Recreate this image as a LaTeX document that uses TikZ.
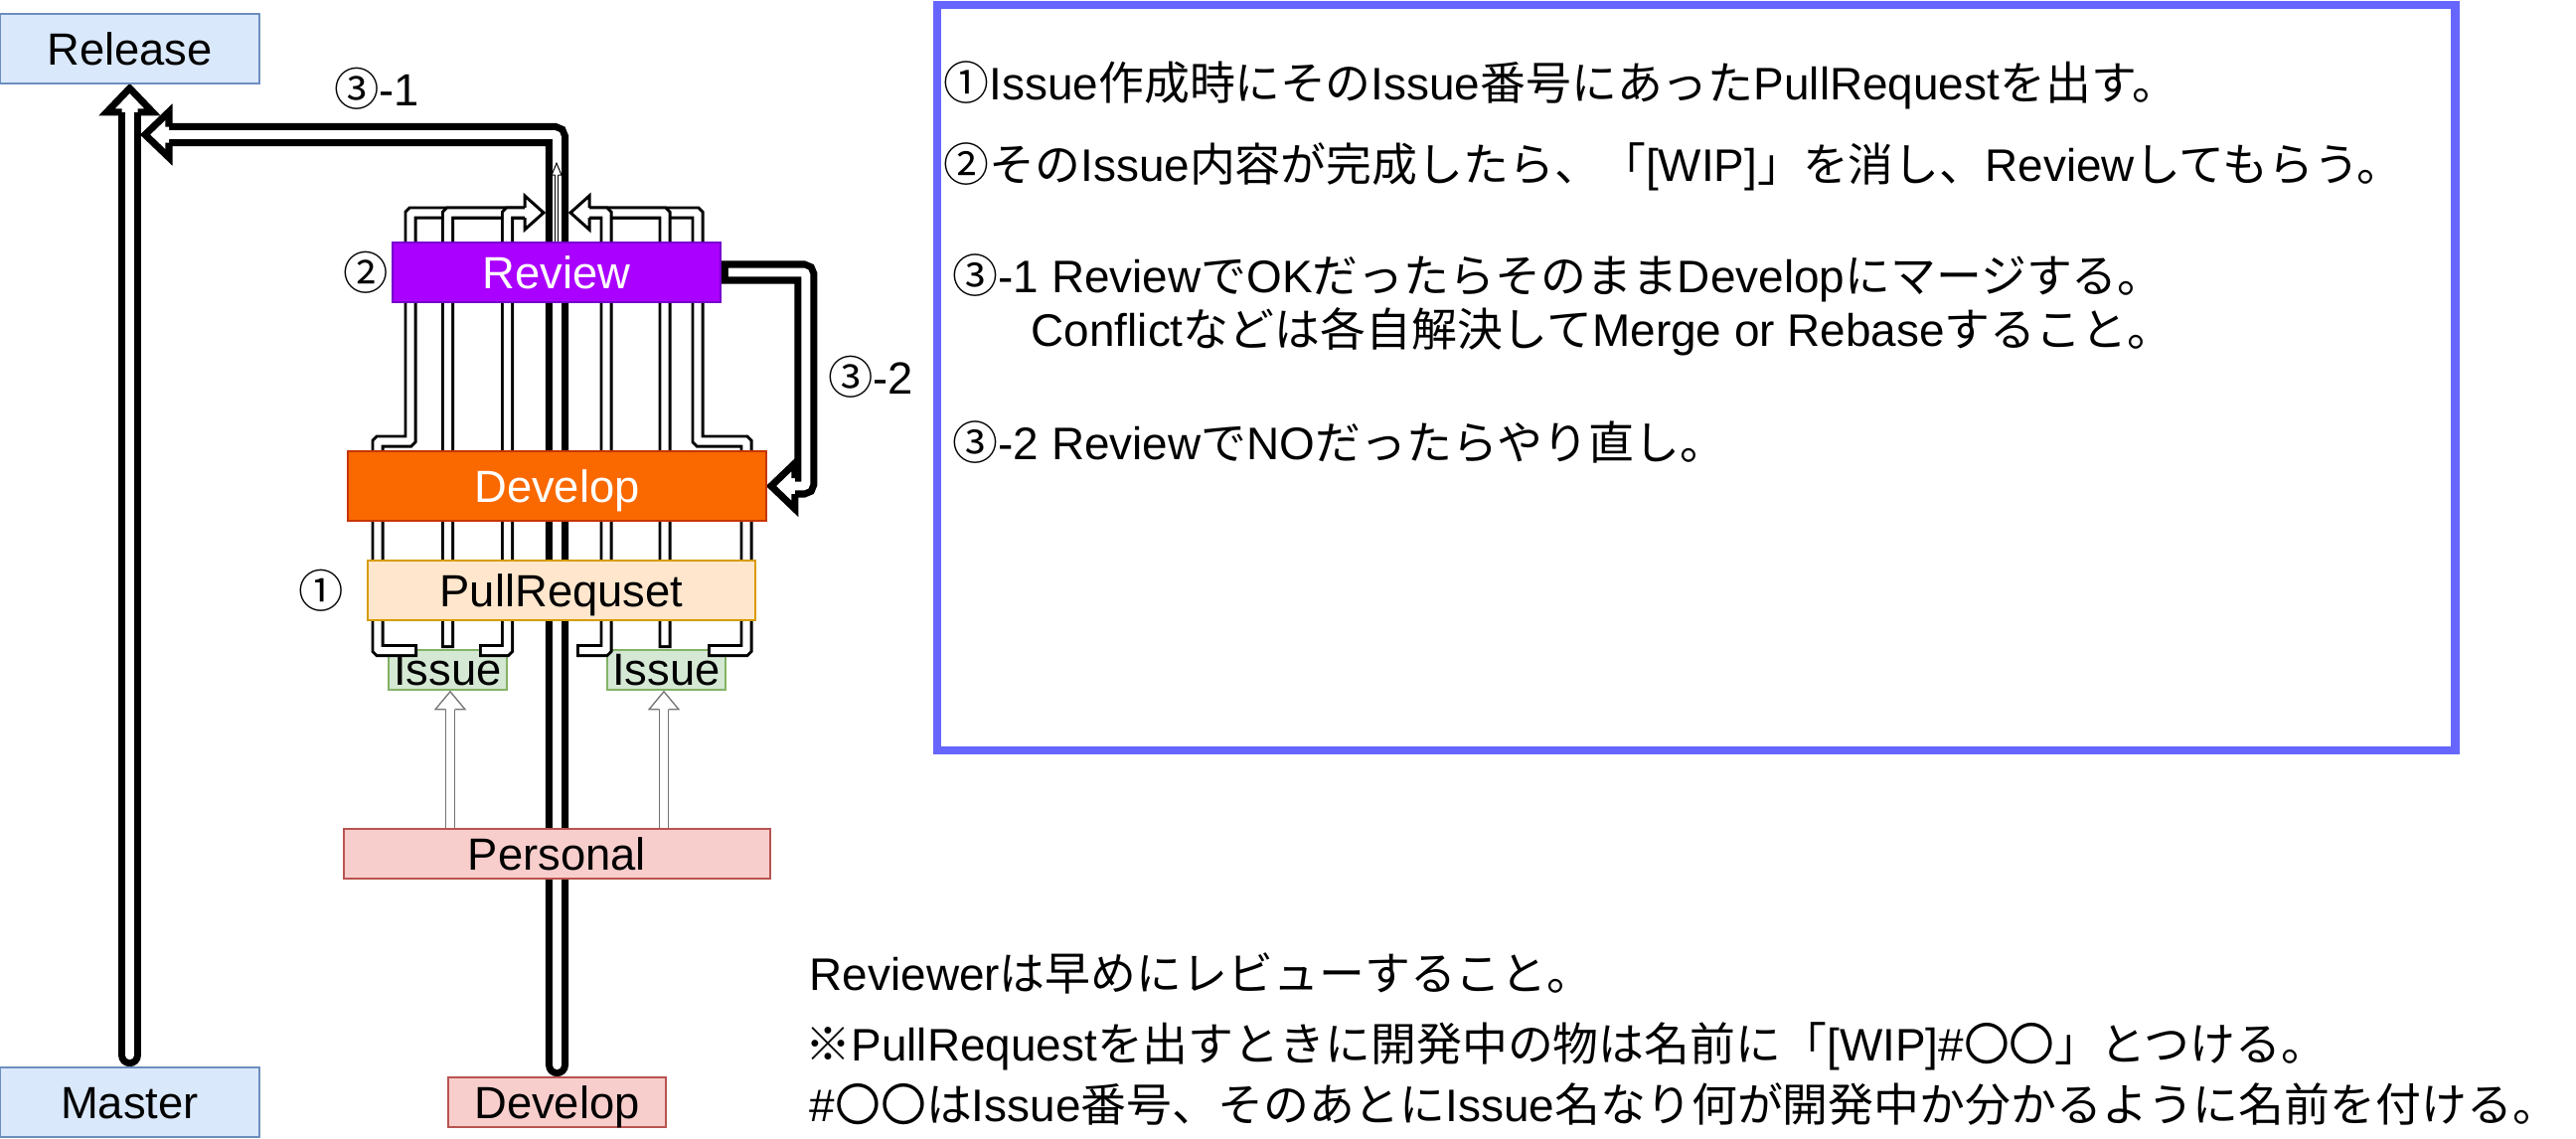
\documentclass[tikz,border=0pt]{standalone}
\usepackage{fontspec}
\setmainfont{Liberation Sans}
\newfontfamily\jp{Noto Sans CJK JP}
\usepackage{tikz}
\usetikzlibrary{positioning,calc}
\newcommand{\ja}[1]{{\jp #1}}
\newcommand{\boxfont}{\fontsize{12.9}{14}\selectfont}
\newcommand{\notefont}{\fontsize{13.05}{16}\selectfont}
\definecolor{relfill}{HTML}{DAE8FC}
\definecolor{relline}{HTML}{6C8EBF}
\definecolor{perfill}{HTML}{F8CECC}
\definecolor{perline}{HTML}{B85450}
\definecolor{issfill}{HTML}{D5E8D4}
\definecolor{issline}{HTML}{82B366}
\definecolor{prfill}{HTML}{FFE6CC}
\definecolor{prline}{HTML}{D79B00}
\definecolor{devfill}{HTML}{FA6800}
\definecolor{devline}{HTML}{C73500}
\definecolor{revfill}{HTML}{AA00FF}
\definecolor{revline}{HTML}{7700CC}
\definecolor{notecolor}{HTML}{6666FF}
\pgfdeclarelayer{back}
\pgfsetlayers{back,main}
\NewDocumentCommand{\flexhead}{ O{} m m m m m }
{
  \begin{scope}[shift={(#2)},rotate=#3]
    \filldraw[fill=white,#1] (-#4,#6) -- (-#4,#5) -- (0,0) -- (-#4,-#5) -- (-#4,-#6);
  \end{scope}
}
\tikzset{
  box/.style={draw,line width=0.45pt,inner sep=0pt,font=\boxfont,text height=1.8ex,text depth=0pt},
  relbox/.style={box,fill=relfill,draw=relline},
  perbox/.style={box,fill=perfill,draw=perline},
  issbox/.style={box,fill=issfill,draw=issline,text height=1.7ex},
  prbox/.style={box,fill=prfill,draw=prline},
  devbox/.style={box,fill=devfill,draw=devline,text=white},
  revbox/.style={box,fill=revfill,draw=revline,text=white},
  numlabel/.style={inner sep=0pt,font=\boxfont},
  notetext/.style={anchor=base west,inner sep=0pt,font=\notefont},
  fatshaft/.style={line width=2pt,double=white,double distance=2.55pt,rounded corners=0.85pt},
  fathead/.style={line width=2pt,line join=miter},
  thinshaft/.style={line width=0.85pt,double=white,double distance=2pt,rounded corners=0.4pt,line cap=rect},
  thinhead/.style={line width=0.85pt,line join=miter},
  greyshaft/.style={draw=black!55,line width=0.37pt,double=white,double distance=2.2pt},
  greyhead/.style={draw=black!55,line width=0.37pt},
  tinyshaft/.style={line width=0.28pt,double=white,double distance=0.6pt},
  tinyhead/.style={line width=0.28pt},
}
\begin{document}
\begin{tikzpicture}[x=0.01cm,y=-0.01cm]
  \useasboundingbox (0,0) rectangle (2592,1145);
  \node[relbox,minimum width=2.61cm,minimum height=0.70cm] (release) at (130.5,49) {Release};
  \node[relbox,minimum width=2.61cm,minimum height=0.70cm] (master) at (130.5,1109) {Master};
  \node[perbox,minimum width=2.19cm,minimum height=0.50cm] (devbase) at (560.5,1109) {Develop};
  \node[perbox,minimum width=4.29cm,minimum height=0.50cm] (personal) at (560.5,859) {Personal};
  \node[prbox,minimum width=3.90cm,minimum height=0.60cm] (pullreq) at (565,594) {PullRequset};
  \node[devbox,minimum width=4.21cm,minimum height=0.70cm] (develop) at (560.5,489) {Develop};
  \node[revbox,minimum width=3.30cm,minimum height=0.60cm] (review) at (560,274) {Review};
  \node[numlabel,left=0.3mm of review] (lab2) {\ja{②}};
  \node[numlabel,left=2.3mm of pullreq] (lab1) {\ja{①}};
  \node[numlabel] (lab31) at (379,89) {\ja{③}-1};
  \node[numlabel] (lab32) at (876,379) {\ja{③}-2};
  \begin{pgfonlayer}{back}
    \fill[white] (0,0) rectangle (2592,1145);
    \node[issbox,minimum width=1.19cm,minimum height=0.40cm] (issuel) at (450.5,674) {Issue};
    \node[issbox,minimum width=1.19cm,minimum height=0.40cm] (issuer) at (670.5,674) {Issue};
    \coordinate (relin) at (146,135.5);
    \coordinate (mergel) at (547,214);
    \coordinate (merger) at (574,214);
    \coordinate (pinl) at ($(issuel.south)+(2.5,1)$);
    \coordinate (pinr) at ($(issuer.south)+(-2.5,1)$);
    \draw[fatshaft,line cap=round] ($(master.north)+(0,-11.5)$) -- ($(release.south)+(0,28)$);
    \flexhead[fathead]{$(release.south)+(0,4)$}{90}{24}{23}{8};
    \draw[fatshaft,line cap=round] ($(devbase.north)+(0,-11.5)$) |- ($(relin)+(24,0)$);
    \flexhead[fathead]{relin}{180}{24}{23}{8};
    \draw[fatshaft,line cap=rect] ($(review.east)+(11.5,0)$) -- ($(review.east)+(85,0)$) |- ($(develop.east)+(28,0)$);
    \flexhead[fathead]{$(develop.east)+(4,0)$}{180}{24}{23}{8};
    \draw[tinyshaft] (review.north) -- ($(review.north)+(0,-67)$);
    \flexhead[tinyhead]{$(review.north)+(0,-79)$}{90}{12}{5}{1.5};
    \draw[thinshaft] ($(issuel.north)+(-37,1.5)$) -| (380,444) -| (413,214) -- ($(mergel)+(-19,0)$);
    \draw[thinshaft] ($(issuel.north)+(0,-7.5)$) |- ($(mergel)+(-19,0)$);
    \draw[thinshaft] ($(issuel.north)+(38,1.5)$) -| (510.5,214) -- ($(mergel)+(-19,0)$);
    \flexhead[thinhead]{mergel}{0}{19}{17}{5};
    \draw[thinshaft] ($(issuer.north)+(48,1.5)$) -| (751,444) -| (702,214) -- ($(merger)+(19,0)$);
    \draw[thinshaft] ($(issuer.north)+(-1.5,-7.5)$) |- ($(merger)+(19,0)$);
    \draw[thinshaft] ($(issuer.north)+(-84,1.5)$) -| (610,214) -- ($(merger)+(19,0)$);
    \flexhead[thinhead]{merger}{180}{19}{17}{5};
    \draw[greyshaft] (pinl |- personal.north) -- ($(pinl)+(0,18)$);
    \flexhead[greyhead]{pinl}{90}{18}{15}{4.5};
    \draw[greyshaft] (pinr |- personal.north) -- ($(pinr)+(0,18)$);
    \flexhead[greyhead]{pinr}{90}{18}{15}{4.5};
  \end{pgfonlayer}
  \node[draw=notecolor,line width=2.3pt,inner sep=0pt,minimum width=15.27cm,minimum height=7.5cm] (notebox) at (1706.5,380) {};
  \node[notetext] (note1) at (949,100) {\ja{①}Issue\ja{作成時にその}Issue\ja{番号にあった}PullRequest\ja{を出す。}};
  \node[notetext] (note2) at (949,182) {\ja{②その}Issue\ja{内容が完成したら、「}[WIP]\ja{」を消し、}Review\ja{してもらう。}};
  \node[notetext] (note3) at (958,294) {\ja{③}-1 Review\ja{で}OK\ja{だったらそのまま}Develop\ja{にマージする。}};
  \node[notetext] (note4) at (1037,348) {Conflict\ja{などは各自解決して}Merge or Rebase\ja{すること。}};
  \node[notetext] (note5) at (958,462) {\ja{③}-2 Review\ja{で}NO\ja{だったらやり直し。}};
  \node[notetext] (rule1) at (814,996) {Reviewer\ja{は早めにレビューすること。}};
  \node[notetext] (rule2) at (810,1067) {\ja{※}PullRequest\ja{を出すときに開発中の物は名前に「}[WIP]\#\ja{〇〇」とつける。}};
  \node[notetext] (rule3) at (814,1128) {\#\ja{〇〇は}Issue\ja{番号、そのあとに}Issue\ja{名なり何が開発中か分かるように名前を付ける。}};
\end{tikzpicture}
\end{document}
